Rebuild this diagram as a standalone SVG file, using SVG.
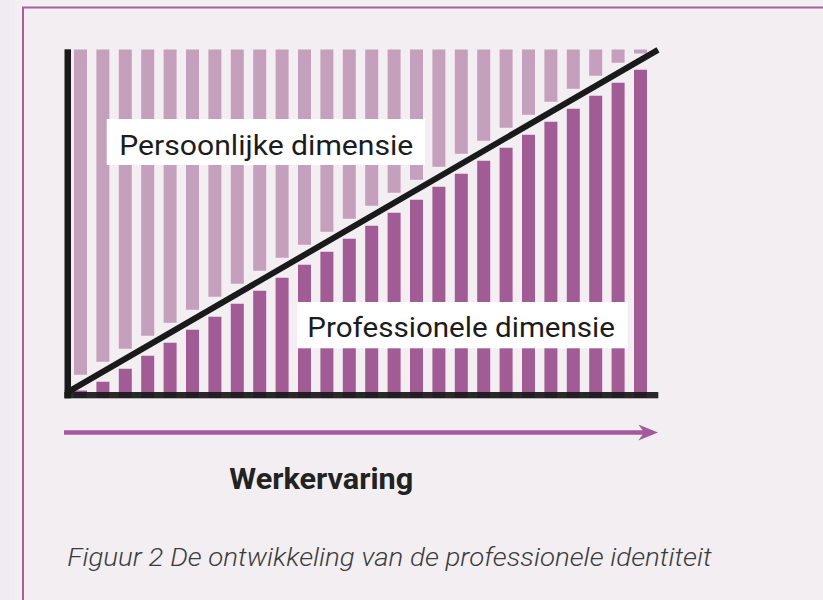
<svg xmlns="http://www.w3.org/2000/svg" width="823" height="600" viewBox="0 0 823 600">
  <style>
    .lt { fill: #c5a0bd; }
    .dk { fill: #a15b95; }
    .lbl { font-family: Roboto, "Liberation Sans", sans-serif; font-size: 28px; fill: #1c1c1c; }
    .ttl { font-family: Roboto, "Liberation Sans", sans-serif; font-size: 29px; font-weight: bold; fill: #222222; }
    .cap { font-family: Roboto, "Liberation Sans", sans-serif; font-size: 26px; font-style: italic; font-weight: 300; fill: #3c3c3c; }
    .box { fill: #ffffff; }
  </style>
  <defs>
    <marker id="ah" viewBox="0 0 20 16" refX="14" refY="8" markerWidth="20" markerHeight="16" markerUnits="userSpaceOnUse" orient="auto">
      <path d="M0,0 L20,8 L0,16 L6,8 Z" fill="#a3599b"/>
    </marker>
  </defs>
  <rect x="0" y="0" width="823" height="600" fill="#f2eef2"/>
  <rect x="0" y="0" width="15" height="600" fill="#f0ebf2"/>
  <rect x="23" y="7.5" width="805" height="610" fill="none" stroke="#a8609f" stroke-width="2"/>

  <g id="bars-persoonlijk">
    <rect class="lt" x="74.0" y="49.5" width="13" height="325.25"/>
    <rect class="lt" x="96.4" y="49.5" width="13" height="312.25"/>
    <rect class="lt" x="118.8" y="49.5" width="13" height="299.25"/>
    <rect class="lt" x="141.2" y="49.5" width="13" height="286.25"/>
    <rect class="lt" x="163.6" y="49.5" width="13" height="273.25"/>
    <rect class="lt" x="186.0" y="49.5" width="13" height="260.25"/>
    <rect class="lt" x="208.4" y="49.5" width="13" height="247.25"/>
    <rect class="lt" x="230.8" y="49.5" width="13" height="234.25"/>
    <rect class="lt" x="253.2" y="49.5" width="13" height="221.25"/>
    <rect class="lt" x="275.6" y="49.5" width="13" height="208.25"/>
    <rect class="lt" x="298.0" y="49.5" width="13" height="195.25"/>
    <rect class="lt" x="320.4" y="49.5" width="13" height="182.25"/>
    <rect class="lt" x="342.8" y="49.5" width="13" height="169.25"/>
    <rect class="lt" x="365.2" y="49.5" width="13" height="156.25"/>
    <rect class="lt" x="387.6" y="49.5" width="13" height="143.25"/>
    <rect class="lt" x="410.0" y="49.5" width="13" height="130.25"/>
    <rect class="lt" x="432.4" y="49.5" width="13" height="117.25"/>
    <rect class="lt" x="454.8" y="49.5" width="13" height="104.25"/>
    <rect class="lt" x="477.2" y="49.5" width="13" height="91.25"/>
    <rect class="lt" x="499.6" y="49.5" width="13" height="78.25"/>
    <rect class="lt" x="522.0" y="49.5" width="13" height="65.25"/>
    <rect class="lt" x="544.4" y="49.5" width="13" height="52.25"/>
    <rect class="lt" x="566.8" y="49.5" width="13" height="39.25"/>
    <rect class="lt" x="589.2" y="49.5" width="13" height="26.25"/>
    <rect class="lt" x="611.6" y="49.5" width="13" height="13.25"/>
    <rect class="lt" x="634.0" y="49.5" width="13" height="4"/>
  </g>

  <g id="bars-professioneel">
    <rect class="dk" x="74.0" y="390.5" width="13" height="7.5"/>
    <rect class="dk" x="96.4" y="381.75" width="13" height="16.25"/>
    <rect class="dk" x="118.8" y="368.75" width="13" height="29.25"/>
    <rect class="dk" x="141.2" y="355.75" width="13" height="42.25"/>
    <rect class="dk" x="163.6" y="342.75" width="13" height="55.25"/>
    <rect class="dk" x="186.0" y="329.75" width="13" height="68.25"/>
    <rect class="dk" x="208.4" y="316.75" width="13" height="81.25"/>
    <rect class="dk" x="230.8" y="303.75" width="13" height="94.25"/>
    <rect class="dk" x="253.2" y="290.75" width="13" height="107.25"/>
    <rect class="dk" x="275.6" y="277.75" width="13" height="120.25"/>
    <rect class="dk" x="298.0" y="264.75" width="13" height="133.25"/>
    <rect class="dk" x="320.4" y="251.75" width="13" height="146.25"/>
    <rect class="dk" x="342.8" y="238.75" width="13" height="159.25"/>
    <rect class="dk" x="365.2" y="225.75" width="13" height="172.25"/>
    <rect class="dk" x="387.6" y="212.75" width="13" height="185.25"/>
    <rect class="dk" x="410.0" y="199.75" width="13" height="198.25"/>
    <rect class="dk" x="432.4" y="186.75" width="13" height="211.25"/>
    <rect class="dk" x="454.8" y="173.75" width="13" height="224.25"/>
    <rect class="dk" x="477.2" y="160.75" width="13" height="237.25"/>
    <rect class="dk" x="499.6" y="147.75" width="13" height="250.25"/>
    <rect class="dk" x="522.0" y="134.75" width="13" height="263.25"/>
    <rect class="dk" x="544.4" y="121.75" width="13" height="276.25"/>
    <rect class="dk" x="566.8" y="108.75" width="13" height="289.25"/>
    <rect class="dk" x="589.2" y="95.75" width="13" height="302.25"/>
    <rect class="dk" x="611.6" y="82.75" width="13" height="315.25"/>
    <rect class="dk" x="634.0" y="69.75" width="13" height="328.25"/>
  </g>

  <g id="connectors">
    <rect x="64.5" y="49.3" width="6.5" height="349" fill="#1a1a1a"/>
    <rect x="64.3" y="392" width="594" height="6.3" fill="#1a1a1a" opacity="0.93"/>
    <line x1="66" y1="393.2" x2="658" y2="49.8" stroke="#1a1a1a" stroke-width="6"/>
    <line x1="64" y1="432.5" x2="652.3" y2="432.5" stroke="#a3599b" stroke-width="4.5" marker-end="url(#ah)"/>
  </g>

  <g id="label-persoonlijk">
    <rect class="box" x="106.7" y="119" width="318.3" height="46"/>
    <text class="lbl" x="119.3" y="155" textLength="294" lengthAdjust="spacingAndGlyphs">Persoonlijke dimensie</text>
  </g>

  <g id="label-professioneel">
    <rect class="box" x="297" y="302" width="330.7" height="46.3"/>
    <text class="lbl" x="307.3" y="337.3" textLength="307.7" lengthAdjust="spacingAndGlyphs">Professionele dimensie</text>
  </g>

  <g id="label-werkervaring">
    <text class="ttl" x="229.3" y="489" textLength="184" lengthAdjust="spacingAndGlyphs">Werkervaring</text>
  </g>

  <g id="caption">
    <text class="cap" x="67.3" y="566" textLength="644.4" lengthAdjust="spacingAndGlyphs">Figuur 2 De ontwikkeling van de professionele identiteit</text>
  </g>
</svg>
